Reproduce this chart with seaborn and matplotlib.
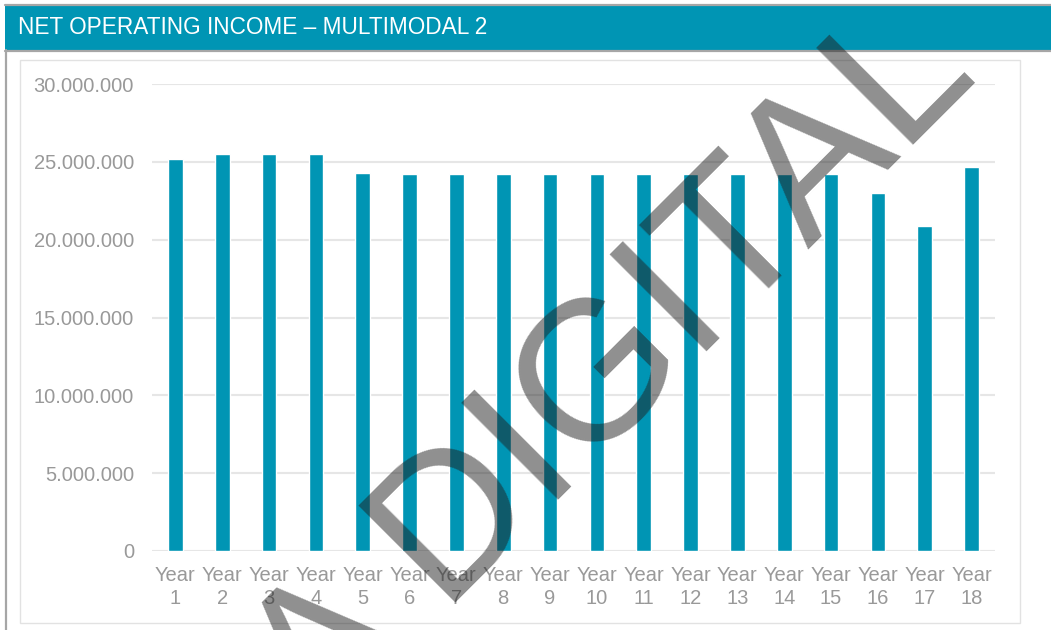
import matplotlib
matplotlib.use("Agg")
import matplotlib.pyplot as plt
from matplotlib.patches import Rectangle
from matplotlib.lines import Line2D
from matplotlib.ticker import FuncFormatter, MultipleLocator
import seaborn as sns
import pandas as pd

# Data
years = [f"Year\n{i}" for i in range(1, 19)]
noi = [25_150_000, 25_500_000, 25_500_000, 25_500_000, 24_300_000,
       24_200_000, 24_200_000, 24_200_000, 24_200_000, 24_200_000,
       24_200_000, 24_200_000, 24_200_000, 24_200_000, 24_200_000,
       23_000_000, 20_900_000, 24_700_000]
title = "NET OPERATING INCOME \u2013 MULTIMODAL 2"
watermark = "A DIGITAL"

TEAL = "#0095B4"
GREY_TXT = "#999999"
W, H = 1051, 630

sns.set_theme(style="white")
plt.rcParams["font.family"] = ["Liberation Sans", "DejaVu Sans"]

fig = plt.figure(figsize=(W / 100, H / 100), dpi=100)
fig.patch.set_facecolor("white")


def fx(px):
    return px / W


def fy(py):
    return 1 - py / H


# Header band and frame
fig.patches.append(Rectangle((fx(5), fy(50)), fx(W - 5), fy(5) - fy(50),
                             transform=fig.transFigure, facecolor=TEAL,
                             edgecolor="none", zorder=0))
for (x0, y0, x1, y1) in [(5, 4.5, W, 4.5), (5, 50.5, W, 50.5), (6, 50, 6, H)]:
    fig.lines.append(Line2D([fx(x0), fx(x1)], [fy(y0), fy(y1)],
                            transform=fig.transFigure, color="#A6A6A6",
                            lw=1.6, zorder=1))
fig.patches.append(Rectangle((fx(20), fy(623)), fx(1000), fy(60) - fy(623),
                             transform=fig.transFigure, facecolor="none",
                             edgecolor="#E2E2E2", lw=1.0, zorder=1))
fig.text(fx(18), fy(28), title, color="white", fontsize=16.3,
         ha="left", va="center")

# Chart
ax = fig.add_axes([fx(152), fy(551), fx(995 - 152), fy(84) - fy(551)])
df = pd.DataFrame({"year": years, "noi": noi})
sns.barplot(data=df, x="year", y="noi", color=TEAL, width=0.31,
            saturation=1, ax=ax, zorder=3)
ax.set_ylim(0, 30_000_000)
ax.set_xlim(-0.5, len(years) - 0.5)
ax.yaxis.set_major_locator(MultipleLocator(5_000_000))
ax.yaxis.set_major_formatter(
    FuncFormatter(lambda v, _: f"{int(v):,}".replace(",", ".")))
ax.grid(axis="y", color="#E6E6E6", lw=1.5, zorder=0)
ax.set_axisbelow(True)
for s in ax.spines.values():
    s.set_visible(False)
ax.set_xlabel("")
ax.set_ylabel("")
ax.tick_params(axis="y", length=0, pad=13, labelsize=14.5, labelcolor=GREY_TXT)
ax.tick_params(axis="x", length=0, pad=11, labelsize=14.5, labelcolor=GREY_TXT)
for lbl in ax.get_xticklabels():
    lbl.set_linespacing(1.22)

# Watermark
fig.text(fx(980), fy(78), watermark, rotation=45, rotation_mode="anchor",
         ha="right", va="baseline", fontsize=143, color="#202020",
         alpha=0.5, zorder=10)

fig.savefig("out.png", dpi=100)
